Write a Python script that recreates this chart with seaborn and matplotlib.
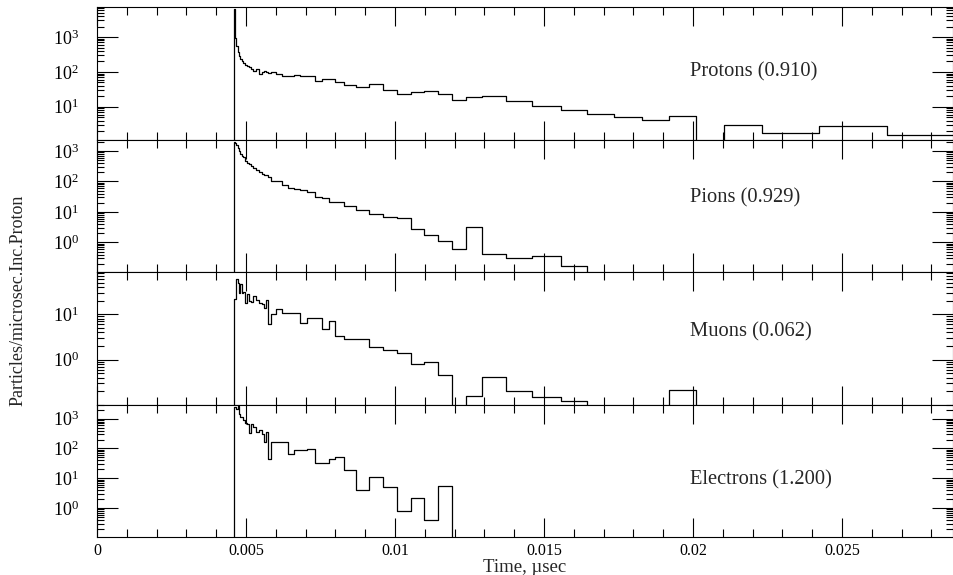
import numpy as np
import pandas as pd
import matplotlib
matplotlib.use("Agg")
import matplotlib.pyplot as plt
import matplotlib.ticker as mticker
import seaborn as sns

# ---------------- data ----------------
# common bin edges (time, microsec)
time_edges = [4.597e-3, 4.631e-3, 4.664e-3, 4.715e-3, 4.765e-3, 4.815e-3, 4.866e-3, 4.916e-3,
              4.966e-3, 5.034e-3, 5.101e-3, 5.168e-3, 5.235e-3, 5.336e-3, 5.436e-3, 5.537e-3,
              5.604e-3, 5.671e-3, 5.738e-3, 5.839e-3, 6.007e-3, 6.208e-3, 6.409e-3, 6.611e-3,
              6.812e-3, 7.047e-3, 7.315e-3, 7.550e-3, 7.785e-3, 7.987e-3, 8.289e-3, 8.691e-3,
              9.128e-3, 9.597e-3, 10.067e-3, 10.537e-3, 10.973e-3, 11.443e-3, 11.913e-3, 12.383e-3,
              12.919e-3, 13.725e-3, 14.597e-3, 15.570e-3, 16.443e-3, 17.349e-3, 18.289e-3, 19.195e-3,
              20.101e-3, 21.040e-3, 22.315e-3, 24.228e-3, 26.510e-3, 28.960e-3]

protons = [6500, 950, 540, 380, 290, 240, 210, 185, 160, 145, 135, 125, 108, 118, 88, 102,
           108, 100, 96, 100, 85, 77, 78, 80, 77, 74, 56, 63, 64, 53, 42, 37,
           45, 30, 24, 26, 28, 24, 15.6, 19, 21, 14.6, 10.7, 8.2, 6.1, 5.2,
           4.1, 5.5, 0, 2.96, 1.8, 2.77, 1.56]

pions = [2000, 1800, 1500, 1230, 970, 800, 700, 650, 480, 410, 360, 330, 270, 240, 200, 175,
         160, 160, 143, 106, 100, 76, 59, 55, 52, 44, 31, 28, 21.5, 21.5, 15.6, 11.5,
         8.5, 6.6, 6.1, 2.85, 1.75, 1.1, 0.59, 3.1, 0.43, 0.32, 0.35, 0.17, 0, 0,
         0, 0, 0, 0, 0, 0, 0]

muons = [22, 22, 59, 48, 30, 46, 30, 31, 18, 28, 20, 19, 25, 21, 18, 16.6,
         14, 21, 6, 10, 13, 11, 11, 11, 6.5, 8.5, 8.5, 4.8, 7.1, 3.3, 2.9, 2.9,
         1.9, 1.6, 1.38, 0.82, 0.9, 0.47, 0, 0.16, 0.42, 0.2, 0.15, 0.12, 0, 0,
         0, 0.22, 0, 0, 0, 0, 0]

electrons = [2450, 2450, 2160, 2590, 1470, 1130, 1130, 875, 710, 680, 330, 645, 520, 355, 405, 315,
             165, 355, 45, 165, 165, 165, 67, 91, 91, 95, 32, 32, 45, 51, 18.5, 3.9,
             11.3, 5, 0.78, 2.1, 0.39, 5.5, 0, 0, 0, 0, 0, 0, 0, 0,
             0, 0, 0, 0, 0, 0, 0]

panel_names = ["Protons (0.910)", "Pions (0.929)", "Muons (0.062)", "Electrons (1.200)"]
panel_series = [protons, pions, muons, electrons]
panel_ylims = [(1.15, 7300), (0.108, 2350), (0.103, 86), (0.106, 3000)]
panel_label_y = [0.51, 0.56, 0.55, 0.43]
label_x = 0.0199

x_ticks = [0, 0.005, 0.01, 0.015, 0.02, 0.025]
x_max = 0.028725

# ---------------- style ----------------
sns.set_style("ticks")
plt.rcParams["font.family"] = ["Liberation Serif", "DejaVu Serif"]
plt.rcParams["mathtext.fontset"] = "custom"
plt.rcParams["mathtext.rm"] = "Liberation Serif"
plt.rcParams["mathtext.it"] = "Liberation Serif:italic"
plt.rcParams["axes.linewidth"] = 0.8

fig, axes = plt.subplots(4, 1, figsize=(9.54, 5.75), dpi=100, sharex=True,
                         gridspec_kw=dict(hspace=0))
fig.subplots_adjust(left=97 / 954, right=953 / 954, top=1 - 7 / 575, bottom=1 - 537 / 575)

floor = 1e-4
edges = np.array(time_edges)
for ax, name, vals, ylim, ly in zip(axes, panel_names, panel_series, panel_ylims, panel_label_y):
    v = np.clip(np.array(vals, dtype=float), floor, None)
    xs = np.concatenate([[edges[0]], edges])
    ys = np.concatenate([[floor], v, [v[-1]]])
    df = pd.DataFrame({"t": xs, "rate": ys})
    sns.lineplot(data=df, x="t", y="rate", ax=ax, drawstyle="steps-post",
                 estimator=None, sort=False, color="black", lw=0.9)
    ax.set_yscale("log")
    ax.set_ylim(*ylim)
    ax.set_xlim(0, x_max)
    ax.set_ylabel("")
    ax.set_xlabel("")
    ax.yaxis.set_major_locator(mticker.LogLocator(base=10, numticks=20))
    ax.yaxis.set_minor_locator(mticker.LogLocator(base=10, subs=np.arange(2, 10) * 1.0, numticks=100))
    ax.yaxis.set_minor_formatter(mticker.NullFormatter())
    ax.yaxis.set_major_formatter(mticker.FuncFormatter(
        lambda y, p: r"$10^{%d}$" % int(round(np.log10(y)))))
    ax.xaxis.set_major_locator(mticker.FixedLocator(x_ticks))
    ax.xaxis.set_minor_locator(mticker.MultipleLocator(0.001))
    ax.tick_params(axis="both", which="both", direction="in", top=True, right=True,
                   width=0.8, colors="black")
    ax.tick_params(axis="x", which="major", length=13.5)
    ax.tick_params(axis="x", which="minor", length=5.5)
    ax.tick_params(axis="y", which="major", length=15, labelsize=13, pad=13)
    ax.tick_params(axis="y", which="minor", length=5)
    ax.text(label_x, ly, name, transform=ax.get_xaxis_transform(),
            fontsize=14.8, ha="left", va="center")
    for s in ax.spines.values():
        s.set_color("black")

axes[-1].xaxis.set_major_formatter(mticker.FuncFormatter(lambda x, p: "%g" % x))
axes[-1].tick_params(axis="x", which="major", labelsize=11.5, pad=4)
axes[-1].set_xlabel("Time, µsec", fontsize=13.5, labelpad=0)
fig.text(18.5 / 954, 1 - 300 / 575, "Particles/microsec.Inc.Proton", rotation=90,
         ha="center", va="center", fontsize=13)

fig.savefig("out.png", dpi=100)
